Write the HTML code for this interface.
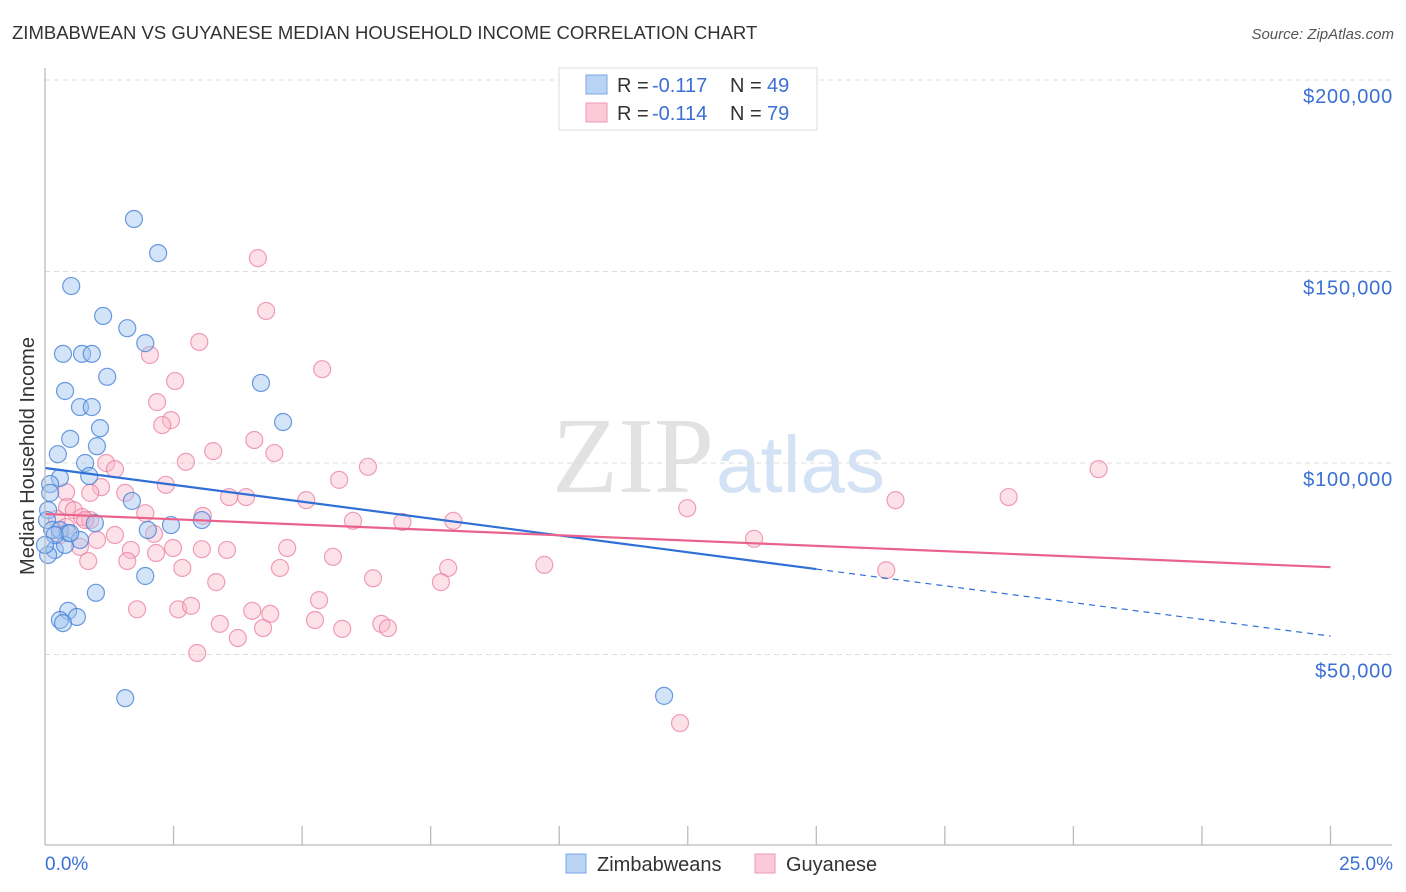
<!DOCTYPE html>
<html><head><meta charset="utf-8"><style>
body{margin:0;background:#fff;font-family:"Liberation Sans",sans-serif;}
#wrap{position:relative;width:1406px;height:892px;overflow:hidden}
</style></head><body><div id="wrap">
<svg id="svg" width="1406" height="892" xmlns="http://www.w3.org/2000/svg">
<text x="12" y="39" font-size="18.5" fill="#333">ZIMBABWEAN VS GUYANESE MEDIAN HOUSEHOLD INCOME CORRELATION CHART</text>
<text x="1394" y="39" font-size="15" fill="#555" font-style="italic" text-anchor="end">Source: ZipAtlas.com</text>
<text x="714" y="492" font-size="108" fill="#e2e2e2" text-anchor="end" font-family="Liberation Serif">ZIP</text>
<text x="716" y="492" font-size="80" fill="#d3e2f4">atlas</text>
<text transform="translate(34,456) rotate(-90)" font-size="20" fill="#333" text-anchor="middle">Median Household Income</text>
<g id="grid"></g><g id="marks"></g>
<line x1="45" y1="68" x2="45" y2="845" stroke="#bbb" stroke-width="1.3"/>
<line x1="45" y1="845" x2="1392" y2="845" stroke="#bbb" stroke-width="1.3"/>
<text x="45" y="870" font-size="19" fill="#3b6fd4">0.0%</text>
<text x="1393" y="870" font-size="19" fill="#3b6fd4" text-anchor="end">25.0%</text>
<g>
<rect x="559" y="68" width="258" height="62" fill="#fff" stroke="#ddd"/>
<rect x="586" y="75" width="21" height="19" fill="#b9d3f5" stroke="#7ba7e6"/>
<rect x="586" y="103" width="21" height="19" fill="#fbc9d8" stroke="#ee9ab5"/>
<g font-size="20">
<text x="617" y="92" fill="#333">R =</text><text x="652" y="92" fill="#3b6fd4">-0.117</text>
<text x="730" y="92" fill="#333">N =</text><text x="767" y="92" fill="#3b6fd4">49</text></g>
<g font-size="20">
<text x="617" y="120" fill="#333">R =</text><text x="652" y="120" fill="#3b6fd4">-0.114</text>
<text x="730" y="120" fill="#333">N =</text><text x="767" y="120" fill="#3b6fd4">79</text></g>
</g>
<g>
<rect x="566" y="854" width="20" height="19" fill="#b9d3f5" stroke="#7ba7e6"/>
<text x="597" y="871" font-size="20" fill="#333">Zimbabweans</text>
<rect x="755" y="854" width="20" height="19" fill="#fbc9d8" stroke="#ee9ab5"/>
<text x="786" y="871" font-size="20" fill="#333">Guyanese</text>
</g>
</svg></div>
<script>
const yTicks=[50000,100000,150000,200000];
const yTickLabels=["$50,000","$100,000","$150,000","$200,000"];
const xTicks=[2.5,5,7.5,10,12.5,15,17.5,20,22.5,25];
const blueX=[1.73,2.20,0.51,1.13,1.60,1.95,0.35,0.72,0.91,1.21,4.20,0.39,0.68,0.91,4.63,1.07,0.49,1.01,0.25,0.78,0.86,0.29,0.10,0.10,0.06,0.04,1.69,0.14,0.29,0.45,0.97,2.45,2.00,3.05,0.19,0.39,0.68,1.95,0.99,0.45,0.29,0.62,0.35,1.56,12.04,0.06,0.19,0.0,0.49];
const blueY=[163.7,154.8,146.2,138.4,135.2,131.3,128.5,128.5,128.5,122.5,120.9,118.8,114.6,114.6,110.7,109.1,106.3,104.4,102.3,100.0,96.6,96.1,94.5,92.2,87.7,85.1,90.1,82.5,82.5,81.7,84.3,83.8,82.5,85.1,77.3,78.6,79.9,70.5,66.1,61.4,59.0,59.8,58.2,38.6,39.2,76.0,81.2,78.6,81.7];
const pinkX=[4.14,4.30,3.00,2.04,5.39,2.53,2.18,2.45,2.28,4.07,3.27,4.46,2.74,1.19,6.28,20.49,1.36,2.35,5.72,1.09,0.41,1.56,3.58,3.91,5.08,16.54,18.74,12.49,0.43,0.56,0.72,5.99,6.95,7.94,0.23,0.88,1.95,3.07,0.41,1.36,1.01,2.12,0.68,1.67,2.49,3.05,3.54,4.71,13.79,5.60,2.16,1.60,0.84,2.67,4.57,7.84,9.71,16.36,6.38,3.33,7.70,1.79,2.59,4.03,2.84,4.38,5.33,5.25,3.40,6.54,6.67,5.78,4.24,3.75,2.96,12.35,0.88,0.78,0.29];
const pinkY=[153.5,139.7,131.6,128.2,124.5,121.4,115.9,111.2,109.9,106.0,103.1,102.6,100.3,100.0,99.0,98.4,98.4,94.3,95.6,93.7,92.4,92.2,91.1,91.1,90.3,90.3,91.1,88.2,88.5,87.7,85.9,84.9,84.6,84.9,85.4,85.1,86.9,86.2,83.3,81.2,79.9,81.5,78.1,77.3,77.8,77.5,77.3,77.8,80.2,75.5,76.5,74.4,74.4,72.6,72.6,72.6,73.4,72.0,69.9,68.9,68.9,61.8,61.8,61.4,62.7,60.6,64.2,59.0,58.0,58.0,56.9,56.7,56.9,54.3,50.4,32.1,92.2,85.1,81.2];
const blueTrendX=[0,15,25];
const blueTrendY=[98.7,72.3,54.8];
const pinkTrendX=[0,25];
const pinkTrendY=[86.7,72.8];
const NS="http://www.w3.org/2000/svg";
const sx=v=>45+v*51.42;
const sy=k=>80+(200-k)*3.83;
const grid=document.getElementById('grid'),marks=document.getElementById('marks');
function mk(t,a,p){const e=document.createElementNS(NS,t);for(const k in a)e.setAttribute(k,a[k]);p.appendChild(e);return e;}
yTicks.forEach((v,i)=>{
 const l=mk('line',{x1:45,x2:1392,y1:sy(v/1000),y2:sy(v/1000),stroke:'#ddd','stroke-dasharray':'5,4'},grid);
 
 
 const t=mk('text',{x:1393,y:sy(v/1000)+23,'font-size':20,'letter-spacing':0.8,fill:'#3b6fd4','text-anchor':'end'},grid);
 t.textContent=yTickLabels[i];
 
 
});
xTicks.forEach(v=>{
 const l=mk('line',{x1:sx(v),x2:sx(v),y1:826,y2:845,stroke:'#bbb','stroke-width':1.3},grid);
 
 
});
function pts(X,Y,fill,stroke,name){X.forEach((x,i)=>{
 const c=mk('circle',{cx:sx(x),cy:sy(Y[i]),r:8.5,fill:fill,stroke:stroke,'stroke-width':1.2},marks);
 
 
});}
pts(pinkX,pinkY,'rgba(249,180,200,0.4)','rgba(232,120,155,0.7)','point-guyanese');
pts(blueX,blueY,'rgba(160,195,240,0.45)','rgba(70,130,215,0.8)','point-zimbabweans');
let a=mk('line',{x1:sx(blueTrendX[0]),y1:sy(blueTrendY[0]),x2:sx(blueTrendX[1]),y2:sy(blueTrendY[1]),stroke:'#2f6fd6','stroke-width':2.2},marks);


a=mk('line',{x1:sx(blueTrendX[1]),y1:sy(blueTrendY[1]),x2:sx(blueTrendX[2]),y2:sy(blueTrendY[2]),stroke:'#2f6fd6','stroke-width':1.2,'stroke-dasharray':'6,5'},marks);


a=mk('line',{x1:sx(pinkTrendX[0]),y1:sy(pinkTrendY[0]),x2:sx(pinkTrendX[1]),y2:sy(pinkTrendY[1]),stroke:'#e8628c','stroke-width':2.2},marks);


</script></body></html>
